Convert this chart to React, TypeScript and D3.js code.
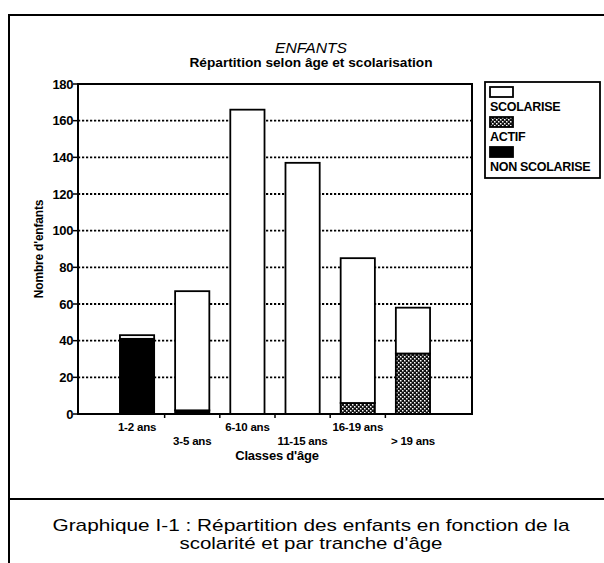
import * as d3 from "d3";

// data
const categories = ["1-2 ans", "3-5 ans", "6-10 ans", "11-15 ans", "16-19 ans", "> 19 ans"];
const nonScolarise = [41, 2, 0, 0, 0, 0];
const actif = [0, 0, 0, 0, 6, 33];
const scolarise = [2, 65, 166, 137, 79, 25];
const yTicks = [0, 20, 40, 60, 80, 100, 120, 140, 160, 180];
const legendLabels = ["SCOLARISE", "ACTIF", "NON SCOLARISE"];

const W = 604;
const H = 563;
const font = "'Liberation Sans', Arial, sans-serif";

const App = () => {
  const x = d3.scaleBand().domain(categories).range([78, 472]).paddingInner(0.38).paddingOuter(0.76);
  const y = d3.scaleLinear().domain([0, 180]).range([414, 84]);

  const rows = categories.map((c, i) => ({
    cat: c,
    nonScolarise: nonScolarise[i],
    actif: actif[i],
    scolarise: scolarise[i],
  }));
  const keys = ["nonScolarise", "actif", "scolarise"];
  const stacked = d3.stack().keys(keys)(rows as any);
  const fills: Record<string, string> = {
    scolarise: "#fff",
    actif: "url(#dots)",
    nonScolarise: "#000",
  };

  const [x0, x1] = x.range();
  const step = x.step();
  // tick marks sit between the bars
  const xTickPos = categories.slice(1).map((c) => (x(c) as number) - (step - x.bandwidth()) / 2);

  const legendFills = [fills.scolarise, fills.actif, fills.nonScolarise];

  return (
    <svg width={W} height={H} style={{ position: "absolute", left: 0, top: 0, background: "#fff" }} fontFamily={font}>
      <defs>
        <pattern id="dots" width="4" height="4" patternUnits="userSpaceOnUse">
          <rect width="4" height="4" fill="#111" />
          <rect x="0" y="0" width="1.5" height="1.5" fill="#fff" />
          <rect x="2" y="2" width="1.5" height="1.5" fill="#fff" />
        </pattern>
      </defs>

      {/* outer frame */}
      <line x1={9} x2={W} y1={15} y2={15} stroke="#000" strokeWidth={2} />
      <line x1={9} x2={9} y1={14} y2={H} stroke="#000" strokeWidth={2} />
      <line x1={9} x2={W} y1={499} y2={499} stroke="#000" strokeWidth={2} />

      {/* titles */}
      <text x={311} y={53} textAnchor="middle" fontSize={14.5} fontStyle="italic" textLength={72} lengthAdjust="spacingAndGlyphs">
        ENFANTS
      </text>
      <text x={311} y={67} textAnchor="middle" fontSize={13.5} fontWeight="bold" textLength={243} lengthAdjust="spacingAndGlyphs">
        Répartition selon âge et scolarisation
      </text>

      {/* gridlines */}
      {yTicks
        .filter((t) => t > 0 && t < 180)
        .map((t) => (
          <line key={t} x1={x0} x2={x1} y1={y(t)} y2={y(t)} stroke="#000" strokeWidth={1.8} strokeDasharray="2.2,1.8" />
        ))}

      {/* bars */}
      {stacked.map((s) =>
        s.map((d, i) =>
          d[1] - d[0] > 0 ? (
            <rect
              key={s.key + i}
              x={x(categories[i])}
              y={y(d[1])}
              width={x.bandwidth()}
              height={y(d[0]) - y(d[1])}
              fill={fills[s.key]}
              stroke="#000"
              strokeWidth={1.8}
            />
          ) : null
        )
      )}

      {/* plot frame */}
      <rect x={x0} y={y(180)} width={x1 - x0} height={y(0) - y(180)} fill="none" stroke="#000" strokeWidth={2} />

      {/* y axis */}
      {yTicks.map((t) => (
        <g key={t}>
          <line x1={x0 - 5} x2={x0} y1={y(t)} y2={y(t)} stroke="#000" strokeWidth={1.5} />
          <text x={x0 - 5} y={y(t) + 4.5} textAnchor="end" fontSize={13} fontWeight="bold" letterSpacing={-0.4}>
            {t}
          </text>
        </g>
      ))}
      <text
        transform={`translate(43,${(y(0) + y(180)) / 2}) rotate(-90)`}
        textAnchor="middle"
        fontSize={12}
        fontWeight="bold"
        letterSpacing={-0.2}
      >
        Nombre d'enfants
      </text>

      {/* x axis */}
      {xTickPos.map((p, i) => (
        <line key={i} x1={p} x2={p} y1={y(0)} y2={y(0) + 4} stroke="#000" strokeWidth={1.5} />
      ))}
      {categories.map((c, i) => (
        <text
          key={c}
          x={(x(c) as number) + x.bandwidth() / 2}
          y={i % 2 === 0 ? 431 : 445}
          textAnchor="middle"
          fontSize={11.5}
          fontWeight="bold"
          letterSpacing={-0.2}
        >
          {c}
        </text>
      ))}
      <text x={277} y={460} textAnchor="middle" fontSize={13} fontWeight="bold" letterSpacing={-0.2}>
        Classes d'âge
      </text>

      {/* legend */}
      <rect x={485} y={82} width={115} height={96} fill="#fff" stroke="#000" strokeWidth={1.8} />
      {legendLabels.map((l, i) => (
        <g key={l} transform={`translate(490,${87 + i * 30})`}>
          <rect x={0} y={0} width={23} height={10} fill={legendFills[i]} stroke="#000" strokeWidth={1.8} />
          <text x={0} y={24} fontSize={12.5} fontWeight="bold" letterSpacing={-0.3}>
            {l}
          </text>
        </g>
      ))}

      {/* caption */}
      <text x={311} y={531} textAnchor="middle" fontSize={17} textLength={517} lengthAdjust="spacingAndGlyphs">
        Graphique I-1 : Répartition des enfants en fonction de la
      </text>
      <text x={311} y={549} textAnchor="middle" fontSize={17} textLength={263} lengthAdjust="spacingAndGlyphs">
        scolarité et par tranche d'âge
      </text>
    </svg>
  );
};

export default App;
